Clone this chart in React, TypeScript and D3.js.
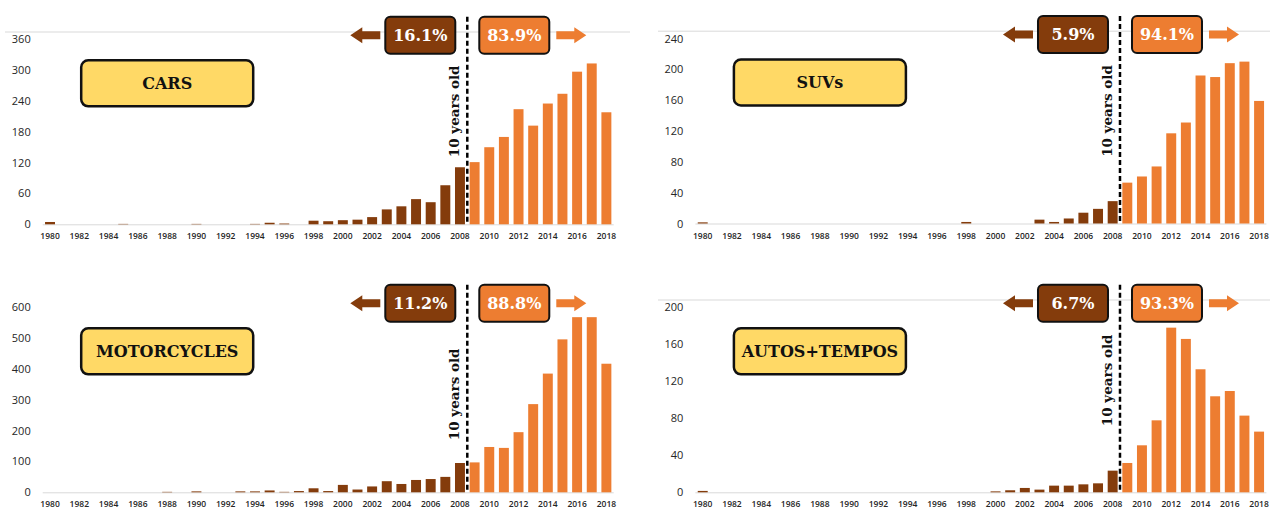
import { useEffect, useRef } from "react";
import * as d3 from "d3";

// registration year buckets
const years = [
  "1980", "1981", "1982", "1983", "1984", "1985", "1986", "1987", "1988", "1989",
  "1990", "1991", "1992", "1993", "1994", "1995", "1996", "1997", "1998", "1999",
  "2000", "2001", "2002", "2003", "2004", "2005", "2006", "2007", "2008", "2009",
  "2010", "2011", "2012", "2013", "2014", "2015", "2016", "2017", "2018",
];
const splitYear = "2008";

// values, 1980 -> 2018
const carsValues = [
  4.5, 0, 0, 0, 0, 0.8, 0, 0, 0, 0, 0.8, 0, 0, 0, 0.8, 3, 1.5, 0, 7, 6,
  8, 9, 14, 29, 35, 49, 43, 76, 111, 121, 150, 170, 224, 192, 235, 254, 297, 313, 218,
];
const suvValues = [
  1.5, 0, 0, 0, 0, 0, 0, 0, 0, 0, 0, 0, 0, 0, 0, 0, 0, 0, 2, 0,
  0, 0, 0, 5, 2, 6.5, 14, 19, 29, 53, 61, 74, 117, 131, 192, 190, 208, 210, 159,
];
const motoValues = [
  0, 0, 0, 0, 0, 0, 0, 0, 1.5, 0, 3, 0, 0, 3, 3, 6, 1.5, 4, 13, 4,
  24, 9, 19, 36, 27, 40, 43, 50, 95, 97, 147, 144, 195, 286, 385, 496, 568, 568, 417,
];
const autoValues = [
  1.5, 0, 0, 0, 0, 0, 0, 0, 0, 0, 0, 0, 0, 0, 0, 0, 0, 0, 0, 0,
  1, 2.2, 4.7, 2.9, 7.2, 7.2, 8.6, 9.7, 23.4, 31.7, 50.8, 77.8, 178, 165.8, 133, 103.8, 109.5, 82.9, 65.6,
];

const carsTicks = [0, 60, 120, 180, 240, 300, 360];
const suvTicks = [0, 40, 80, 120, 160, 200, 240];
const motoTicks = [0, 100, 200, 300, 400, 500, 600];
const autoTicks = [0, 40, 80, 120, 160, 200];

const panelNames = ["CARS", "SUVs", "MOTORCYCLES", "AUTOS+TEMPOS"];
const olderShares = ["16.1%", "5.9%", "11.2%", "6.7%"];
const newerShares = ["83.9%", "94.1%", "88.8%", "93.3%"];

const DARK = "#843C0C";
const ORANGE = "#ED7D31";
const YELLOW = "#FFD966";
const SLAB = "'DejaVu Serif', serif";
const SANS = "'Open Sans', 'Noto Sans', sans-serif";

const PLOT_W = 571;
const PLOT_H = 185;

// panel placement (plot left edge, zero line, where the label sits)
const panels = [
  { name: panelNames[0], values: carsValues, ticks: carsTicks, older: olderShares[0], newer: newerShares[0], x0: 42.7, base: 224.3, topLine: [5, 630], vLabelY: 113 },
  { name: panelNames[1], values: suvValues, ticks: suvTicks, older: olderShares[1], newer: newerShares[1], x0: 695.4, base: 223.5, topLine: [658, 1270], vLabelY: 112.5 },
  { name: panelNames[2], values: motoValues, ticks: motoTicks, older: olderShares[2], newer: newerShares[2], x0: 42.7, base: 492.3, topLine: null, vLabelY: 98 },
  { name: panelNames[3], values: autoValues, ticks: autoTicks, older: olderShares[3], newer: newerShares[3], x0: 695.4, base: 492.3, topLine: [658, 1270], vLabelY: 112 },
];

export default function App() {
  const svgRef = useRef<SVGSVGElement>(null);

  useEffect(() => {
    if (!svgRef.current) return;
    const svg = d3.select(svgRef.current);
    svg.selectAll("*").remove();

    panels.forEach((p) => {
      const g = svg.append("g");

      const x = d3.scaleBand<string>()
        .domain(years)
        .range([p.x0, p.x0 + PLOT_W])
        .paddingInner(0.32)
        .paddingOuter(0.16);
      const yMax = p.ticks[p.ticks.length - 1];
      const y = d3.scaleLinear().domain([0, yMax]).range([p.base, p.base - PLOT_H]);

      // faint line over the plot
      if (p.topLine) {
        g.append("line")
          .attr("x1", p.topLine[0]).attr("x2", p.topLine[1])
          .attr("y1", p.base - 192.3).attr("y2", p.base - 192.3)
          .attr("stroke", "#d9d9d9").attr("stroke-width", 1);
      }

      // zero line
      g.append("line")
        .attr("x1", p.x0).attr("x2", p.x0 + PLOT_W)
        .attr("y1", y(0) + 0.5).attr("y2", y(0) + 0.5)
        .attr("stroke", "#d9d9d9").attr("stroke-width", 1);

      // bars
      g.append("g").selectAll("rect")
        .data(years.map((yr, i) => ({ yr, v: p.values[i] })))
        .join("rect")
        .attr("x", (d) => x(d.yr)!)
        .attr("width", x.bandwidth())
        .attr("y", (d) => y(d.v))
        .attr("height", (d) => y(0) - y(d.v))
        .attr("fill", (d) => (+d.yr <= +splitYear ? DARK : ORANGE));

      // y axis
      g.append("g")
        .attr("transform", `translate(${p.x0},0)`)
        .call(d3.axisLeft(y).tickValues(p.ticks).tickSize(0).tickPadding(12))
        .call((ax) => ax.select(".domain").remove())
        .call((ax) => ax.selectAll("text")
          .attr("fill", "#262626").style("font-family", SANS).style("font-size", "11px"));

      // x axis, every other year
      g.append("g")
        .attr("transform", `translate(0,${p.base})`)
        .call(d3.axisBottom(x).tickValues(years.filter((_, i) => i % 2 === 0)).tickSize(0).tickPadding(9))
        .call((ax) => ax.select(".domain").remove())
        .call((ax) => ax.selectAll("text")
          .attr("fill", "#262626").style("font-family", SANS).style("font-size", "8.5px").style("font-weight", 600));

      // 10-year split
      const splitX = x(String(+splitYear + 1))! - (x.step() * 0.32) / 2;
      const top = p.base - 207.5;
      g.append("line")
        .attr("x1", splitX).attr("x2", splitX)
        .attr("y1", top).attr("y2", p.base)
        .attr("stroke", "#000").attr("stroke-width", 2.5)
        .attr("stroke-dasharray", "5,3");

      g.append("text")
        .attr("transform", `translate(${splitX - 8},${p.base - p.vLabelY}) rotate(-90)`)
        .attr("text-anchor", "middle")
        .style("font-family", SLAB).style("font-weight", 700).style("font-size", "13.5px")
        .attr("fill", "#111")
        .text("10 years old");

      // share boxes
      const boxW = 70;
      const boxH = 37;
      const shares = [
        { x: splitX - 12 - boxW, fill: DARK, text: p.older },
        { x: splitX + 12, fill: ORANGE, text: p.newer },
      ];
      shares.forEach((s) => {
        g.append("rect")
          .attr("x", s.x).attr("y", top)
          .attr("width", boxW).attr("height", boxH)
          .attr("rx", 5)
          .attr("fill", s.fill).attr("stroke", "#111").attr("stroke-width", 2);
        g.append("text")
          .attr("x", s.x + boxW / 2).attr("y", top + boxH / 2)
          .attr("dy", "0.36em")
          .attr("text-anchor", "middle")
          .attr("fill", "#fff")
          .style("font-family", SLAB).style("font-weight", 700).style("font-size", "16px")
          .text(s.text);
      });

      // block arrows
      const ay = top + boxH / 2;
      const arrow = (tip: number, tail: number) => {
        const dir = Math.sign(tail - tip);
        const neck = tip + dir * 12;
        return `M${tip},${ay} L${neck},${ay - 8} L${neck},${ay - 4} L${tail},${ay - 4} L${tail},${ay + 4} L${neck},${ay + 4} L${neck},${ay + 8} Z`;
      };
      g.append("path")
        .attr("d", arrow(splitX - 12 - boxW - 35, splitX - 12 - boxW - 5))
        .attr("fill", DARK);
      g.append("path")
        .attr("d", arrow(splitX + 12 + boxW + 37, splitX + 12 + boxW + 7))
        .attr("fill", ORANGE);

      // vehicle type badge
      const lx = p.x0 + 38.5;
      const ly = p.base - 164;
      g.append("rect")
        .attr("x", lx).attr("y", ly)
        .attr("width", 172).attr("height", 46)
        .attr("rx", 7)
        .attr("fill", YELLOW).attr("stroke", "#111").attr("stroke-width", 2.5);
      g.append("text")
        .attr("x", lx + 86).attr("y", ly + 23)
        .attr("dy", "0.36em")
        .attr("text-anchor", "middle")
        .attr("fill", "#111")
        .style("font-family", SLAB).style("font-weight", 700).style("font-size", "16px")
        .text(p.name);
    });
  }, []);

  return (
    <svg
      ref={svgRef}
      width={1270}
      height={509}
      style={{ position: "absolute", left: 0, top: 0, background: "#fff" }}
    />
  );
}
